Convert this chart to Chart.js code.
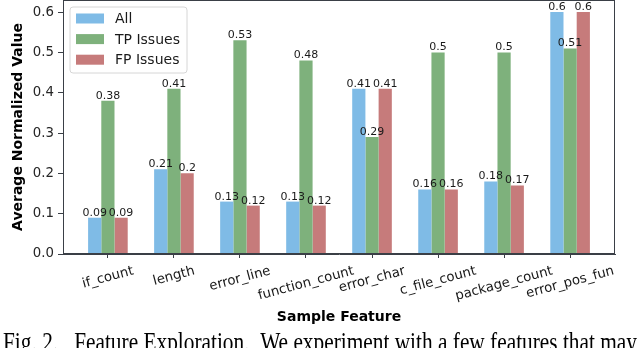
<!DOCTYPE html>
<html>
<head>
<meta charset="utf-8">
<script src="https://cdn.jsdelivr.net/npm/chart.js@4/dist/chart.umd.min.js"></script>
<style>
  html, body { margin: 0; padding: 0; background: #ffffff; }
  #wrap { width: 640px; height: 348px; }
</style>
</head>
<body>
<div id="wrap"><canvas id="c" width="640" height="348"></canvas></div>
<script>
const categories = ['if_count', 'length', 'error_line', 'function_count', 'error_char', 'c_file_count', 'package_count', 'error_pos_fun'];
const allValues = [0.09, 0.21, 0.13, 0.13, 0.41, 0.16, 0.18, 0.6];
const tpValues  = [0.38, 0.41, 0.53, 0.48, 0.29, 0.5, 0.5, 0.51];
const fpValues  = [0.09, 0.2, 0.12, 0.12, 0.41, 0.16, 0.17, 0.6];
const yTicks = [0.0, 0.1, 0.2, 0.3, 0.4, 0.5, 0.6];
const seriesNames = ['All', 'TP Issues', 'FP Issues'];
const seriesColors = ['#7fbbe6', '#7eb17c', '#c67b7b'];
const xTitle = 'Sample Feature';
const yTitle = 'Average Normalized Value';
const caption = 'Fig. 2.   Feature Exploration.  We experiment with a few features that may';

const toPoints = vals => vals.map((v, i) => ({ x: i, y: v }));
const AXIS = '#3a3f46';
const TXT = '#1a1a1a';
const SANS = '"DejaVu Sans", sans-serif';

const decor = {
  id: 'decor',
  afterDatasetsDraw(chart) {
    const ctx = chart.ctx;
    const a = chart.chartArea;
    // value labels
    ctx.save();
    ctx.fillStyle = TXT;
    ctx.font = '11px ' + SANS;
    ctx.textAlign = 'center';
    ctx.textBaseline = 'alphabetic';
    chart.data.datasets.forEach((ds, di) => {
      const meta = chart.getDatasetMeta(di);
      meta.data.forEach((bar, i) => {
        const v = ds.data[i].y;
        ctx.fillText(String(v), bar.x, bar.y - 2);
      });
    });
    ctx.restore();
    // frame
    ctx.save();
    ctx.strokeStyle = AXIS;
    ctx.lineWidth = 1;
    ctx.strokeRect(Math.round(a.left) + 0.5, Math.round(a.top) + 0.5, Math.round(a.right - a.left) - 1, Math.round(a.bottom - a.top) - 1);
    ctx.restore();
    // legend
    ctx.save();
    const lx = 70, ly = 7, lw = 117, lh = 66, r = 3;
    ctx.beginPath();
    ctx.moveTo(lx + r, ly);
    ctx.arcTo(lx + lw, ly, lx + lw, ly + lh, r);
    ctx.arcTo(lx + lw, ly + lh, lx, ly + lh, r);
    ctx.arcTo(lx, ly + lh, lx, ly, r);
    ctx.arcTo(lx, ly, lx + lw, ly, r);
    ctx.closePath();
    ctx.fillStyle = 'rgba(255,255,255,0.85)';
    ctx.fill();
    ctx.strokeStyle = '#d6d6d6';
    ctx.lineWidth = 1;
    ctx.stroke();
    ctx.font = '14px ' + SANS;
    ctx.textAlign = 'left';
    ctx.textBaseline = 'middle';
    seriesNames.forEach((n, i) => {
      const cy = 18.5 + i * 20.6;
      ctx.fillStyle = seriesColors[i];
      ctx.fillRect(76, cy - 5, 28, 10);
      ctx.fillStyle = TXT;
      ctx.fillText(n, 115, cy + 1);
    });
    ctx.restore();
  },
  afterDraw(chart) {
    const ctx = chart.ctx;
    const a = chart.chartArea;
    const xs = chart.scales.x;
    // rotated x tick labels, centered on ticks
    ctx.save();
    ctx.fillStyle = TXT;
    ctx.font = '13.3px ' + SANS;
    const ang = 15 * Math.PI / 180;
    categories.forEach((c, i) => {
      const px = xs.getPixelForValue(i);
      const w = ctx.measureText(c).width;
      const h = 14;
      const H = w * Math.sin(ang) + h * Math.cos(ang);
      const top = a.bottom + 10;
      ctx.save();
      ctx.translate(px, top + H / 2);
      ctx.rotate(-ang);
      ctx.textAlign = 'center';
      ctx.textBaseline = 'middle';
      ctx.fillText(c, 0, 0);
      ctx.restore();
    });
    ctx.restore();
    // axis titles
    ctx.save();
    ctx.fillStyle = '#000';
    ctx.font = 'bold 14px ' + SANS;
    ctx.textAlign = 'center';
    ctx.textBaseline = 'middle';
    ctx.fillText(xTitle, (a.left + a.right) / 2, 317);
    ctx.translate(18, (a.top + a.bottom) / 2);
    ctx.rotate(-Math.PI / 2);
    ctx.fillText(yTitle, 0, 0);
    ctx.restore();
    // caption (cut off at the bottom, as in the source)
    ctx.save();
    ctx.fillStyle = '#000';
    ctx.font = '17px "Liberation Serif", serif';
    ctx.textAlign = 'left';
    ctx.textBaseline = 'alphabetic';
    const cw = ctx.measureText(caption).width;
    const sx = 634 / cw;
    ctx.translate(3, 351);
    ctx.scale(sx, 1.6);
    ctx.fillText(caption, 0, 0);
    ctx.restore();
  }
};

new Chart(document.getElementById('c'), {
  type: 'bar',
  data: {
    datasets: [
      { label: seriesNames[0], data: toPoints(allValues), backgroundColor: seriesColors[0], borderWidth: 0 },
      { label: seriesNames[1], data: toPoints(tpValues), backgroundColor: seriesColors[1], borderWidth: 0 },
      { label: seriesNames[2], data: toPoints(fpValues), backgroundColor: seriesColors[2], borderWidth: 0 }
    ]
  },
  options: {
    responsive: false,
    devicePixelRatio: 1,
    animation: false,
    categoryPercentage: 0.6,
    barPercentage: 1.0,
    layout: { autoPadding: false, padding: { left: 0, right: 25, top: 0, bottom: 0 } },
    plugins: { legend: { display: false }, tooltip: { enabled: false } },
    scales: {
      x: {
        type: 'linear',
        offset: false,
        min: -0.68,
        max: 7.68,
        afterBuildTicks(scale) { scale.ticks = categories.map((c, i) => ({ value: i })); },
        afterFit(scale) { scale.height = 94; scale.paddingLeft = 0; scale.paddingRight = 0; },
        ticks: { display: false },
        grid: { offset: false, drawOnChartArea: false, drawTicks: true, tickLength: 4, color: AXIS, lineWidth: 1 },
        border: { display: true, color: AXIS, width: 1 }
      },
      y: {
        min: 0,
        max: 0.63,
        afterBuildTicks(scale) { scale.ticks = yTicks.map(v => ({ value: v })); },
        afterFit(scale) { scale.width = 63; scale.paddingTop = 0; scale.paddingBottom = 0; },
        ticks: {
          callback: v => Number(v).toFixed(1),
          color: '#262626',
          font: { family: SANS, size: 13.3, lineHeight: 0.1 },
          padding: 4
        },
        grid: { drawOnChartArea: false, drawTicks: true, tickLength: 5, color: AXIS, lineWidth: 1 },
        border: { display: true, color: AXIS, width: 1 }
      }
    }
  },
  plugins: [decor]
});
</script>
</body>
</html>
